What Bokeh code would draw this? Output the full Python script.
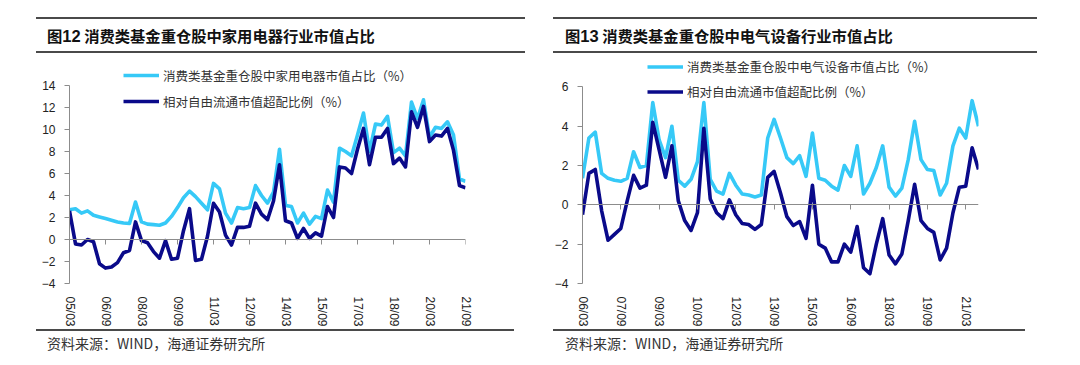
from bokeh.plotting import figure
from bokeh.models import (Range1d, FixedTicker, LinearAxis, Legend, LegendItem, Div)
from bokeh.layouts import row, column
from bokeh.embed import file_html
from bokeh.resources import INLINE

# ---------------- data ----------------
# Figure 12: quarterly, 2005Q1 .. 2021Q3
left_share = [2.7, 2.8, 2.4, 2.6, 2.2, 2.05, 1.9, 1.75, 1.6, 1.5,
              1.45, 3.4, 1.6, 1.4, 1.35, 1.3, 1.5, 2.1, 2.9, 3.8,
              4.4, 3.9, 3.3, 2.7, 5.1, 4.6, 2.4, 1.5, 2.9, 2.8,
              2.9, 4.9, 4.0, 3.3, 4.3, 8.2, 3.1, 3.0, 1.5, 2.4,
              1.4, 2.1, 1.9, 4.5, 3.4, 8.3, 8.0, 7.6, 9.5, 11.5,
              8.0, 10.5, 10.4, 11.2, 7.9, 8.3, 7.6, 12.5, 11.0, 12.7,
              9.3, 10.2, 10.1, 10.7, 9.5, 5.5, 5.3]
left_over = [2.6, -0.4, -0.5, 0.0, -0.2, -2.2, -2.6, -2.5, -2.1, -1.2,
             -1.0, 1.6, -0.1, -0.3, -1.1, -1.7, -0.1, -1.8, -1.7, 0.8,
             2.8, -1.9, -1.8, 0.3, 3.3, 2.5, 0.4, -0.5, 1.1, 1.1,
             1.2, 3.3, 2.3, 1.8, 3.5, 6.8, 1.7, 1.5, 0.1, 1.0,
             0.1, 0.6, 0.3, 3.0, 2.0, 6.6, 6.5, 6.0, 8.2, 10.1,
             6.8, 9.3, 9.3, 10.1, 6.9, 7.4, 6.6, 11.6, 10.2, 12.1,
             8.9, 9.5, 9.4, 10.1, 8.1, 4.9, 4.7]
left_tick_labels = ["05/03", "06/09", "08/03", "09/09", "11/03", "12/09",
                    "14/03", "15/09", "17/03", "18/09", "20/03", "21/09"]
left_yticks = [-4, -2, 0, 2, 4, 6, 8, 10, 12, 14]

# Figure 13: quarterly, 2006Q1 .. 2021Q3
right_share = [1.35, 3.4, 3.7, 1.6, 1.35, 1.25, 1.2, 1.35, 2.7, 1.9,
               2.0, 5.2, 3.3, 2.4, 4.0, 1.25, 0.95, 1.3, 2.2, 5.2,
               1.3, 0.7, 0.55, 1.6, 1.0, 0.55, 0.5, 0.4, 0.5, 3.4,
               4.35, 3.4, 2.4, 2.1, 2.5, 1.45, 3.65, 1.35, 1.25, 0.95,
               0.75, 2.0, 1.45, 3.0, 0.55, 1.1, 1.9, 3.0, 0.9, 0.45,
               0.85, 2.3, 4.25, 2.3, 1.8, 1.75, 0.5, 1.1, 3.0, 3.9,
               3.4, 5.3, 4.0]
right_over = [-0.5, 1.6, 1.8, -0.3, -1.8, -1.5, -1.2, 0.2, 1.5, 0.85,
              1.0, 4.2, 2.8, 1.4, 3.0, 0.2, -0.8, -1.3, -0.4, 3.9,
              0.3, -0.4, -0.7, 0.25, -0.5, -0.95, -1.0, -1.25, -1.0, 1.4,
              1.7, 0.6, -0.6, -1.05, -0.85, -1.7, 1.0, -2.0, -2.2, -2.9,
              -2.9, -2.0, -2.4, -1.1, -3.2, -3.5, -2.0, -0.7, -2.55, -3.0,
              -2.5, -0.8, 1.05, -0.8, -1.2, -1.4, -2.8, -2.2, -0.4, 0.9,
              0.95, 2.9, 1.8]
right_tick_labels = ["06/03", "07/09", "09/03", "10/09", "12/03", "13/09",
                     "15/03", "16/09", "18/03", "19/09", "21/03"]
right_yticks = [-4, -2, 0, 2, 4, 6]

title_left = ("图", "12", " 消费类基金重仓股中家用电器行业市值占比")
title_right = ("图", "13", " 消费类基金重仓股中电气设备行业市值占比")
legend_left = ["消费类基金重仓股中家用电器市值占比（%）", "相对自由流通市值超配比例（%）"]
legend_right = ["消费类基金重仓股中电气设备市值占比（%）", "相对自由流通市值超配比例（%）"]
source_text = "资料来源：WIND，海通证券研究所"

LIGHT = "#36C9F7"
DARK = "#0A0A8A"
AXIS = "#8C8C8C"
RULE = "#4A4A4A"
CJK = "Noto Sans CJK SC"
LAT = "Liberation Sans"
TICK_STEP = 6


def title_div(parts, ml, w, pl, total_w):
    html = (f'<div style="padding-top:17px;"><div style="margin-left:{ml}px;width:{w}px;'
            f'border-top:2px solid {RULE};border-bottom:2px solid {RULE};height:32px;'
            f'line-height:32px;padding-left:{pl}px;box-sizing:content-box;'
            f'font-family:\'{CJK}\';font-weight:bold;font-size:15.3px;color:#111;'
            f'white-space:nowrap;">{parts[0]}<span style="font-family:\'{LAT}\';'
            f'font-size:16.5px;">{parts[1]}</span>{parts[2]}</div></div>')
    return Div(text=html, width=total_w, height=53, margin=0)


def foot_div(ml, w, pl, total_w):
    html = (f'<div style="margin-left:{ml}px;width:{w}px;'
            f'border-top:2px solid {RULE};height:24px;line-height:24px;'
            f'padding-left:{pl}px;font-family:\'{CJK}\';font-size:14px;color:#333;'
            f'white-space:nowrap;">{source_text}</div>')
    return Div(text=html, width=total_w, height=28, margin=0)


def panel(share, over, tick_labels, yticks, legend_labels,
          borders, frame_h, px_per_unit, legend_loc, legend_row_h):
    n = len(share)
    xs = list(range(n))
    bl, br, bt, bb = borders
    y_top = yticks[0] + frame_h / px_per_unit
    p = figure(frame_width=396, frame_height=frame_h, output_backend="svg",
               toolbar_location=None,
               x_range=Range1d(0, n - 1), y_range=Range1d(yticks[0], y_top),
               min_border_left=bl, min_border_right=br, min_border_top=bt,
               min_border_bottom=bb, x_axis_type=None, y_axis_type=None)
    p.outline_line_color = None
    p.xgrid.visible = False
    p.ygrid.visible = False
    p.background_fill_color = "white"

    # y axis (spine limited to the tick range)
    yax = LinearAxis(ticker=FixedTicker(ticks=yticks), bounds=(yticks[0], yticks[-1]))
    yax.axis_line_color = AXIS
    yax.major_tick_line_color = AXIS
    yax.major_tick_in = 0
    yax.major_tick_out = 5
    yax.minor_tick_line_color = None
    yax.major_label_standoff = 9
    yax.major_label_text_font = LAT
    yax.major_label_text_font_size = "12px"
    yax.major_label_text_color = "#222222"
    p.add_layout(yax, "left")

    # x labels at the bottom
    tick_pos = [i * TICK_STEP for i in range(len(tick_labels))]
    xlab = LinearAxis(ticker=FixedTicker(ticks=tick_pos))
    xlab.major_label_overrides = {t: l for t, l in zip(tick_pos, tick_labels)}
    xlab.axis_line_color = None
    xlab.major_tick_line_color = None
    xlab.minor_tick_line_color = None
    xlab.major_label_orientation = "vertical"
    xlab.major_label_standoff = 7
    xlab.major_label_text_font = LAT
    xlab.major_label_text_font_size = "12px"
    xlab.major_label_text_color = "#222222"
    p.add_layout(xlab, "below")

    # zero line with downward ticks (label-less axis fixed at y=0)
    zax = LinearAxis(ticker=FixedTicker(ticks=tick_pos), fixed_location=0)
    zax.axis_line_color = AXIS
    zax.major_tick_line_color = AXIS
    zax.major_tick_in = 5
    zax.major_tick_out = 0
    zax.minor_tick_line_color = None
    zax.major_label_text_color = None
    zax.major_label_text_font_size = "1px"
    zax.major_label_standoff = 0
    p.add_layout(zax, "above")

    r1 = p.line(xs, share, line_color=LIGHT, line_width=3.6, line_join="round")
    r2 = p.line(xs, over, line_color=DARK, line_width=3.6, line_join="round")

    leg = Legend(items=[LegendItem(label=legend_labels[0], renderers=[r1]),
                        LegendItem(label=legend_labels[1], renderers=[r2])],
                 location=legend_loc, orientation="vertical")
    leg.background_fill_alpha = 0
    leg.border_line_color = None
    leg.padding = 0
    leg.margin = 0
    leg.spacing = 0
    leg.glyph_width = 36
    leg.glyph_height = legend_row_h
    leg.label_height = legend_row_h
    leg.label_standoff = 4
    leg.label_text_font = CJK
    leg.label_text_font_size = "12.5px"
    leg.label_text_color = "#333333"
    p.add_layout(leg, "center")
    return p


# left: frame x 69..465, y 64..283 (11 px per unit)
pL = panel(left_share, left_over, left_tick_labels, left_yticks, legend_left,
           (69, 75, 11, 44), 219, 11.0, (54, 169), 26)
# right: frame x 582..978, y 55..283 (19.66 px per unit)
pR = panel(right_share, right_over, right_tick_labels, right_yticks, legend_right,
           (42, 94, 2, 44), 228, 19.66, (65, 179), 25)

colL = column(title_div(title_left, 36, 478, 11, 540), pL, foot_div(36, 478, 11, 540),
              spacing=0)
colR = column(title_div(title_right, 13, 472, 12, 532), pR, foot_div(13, 472, 12, 532),
              spacing=0)
layout = row(colL, colR, spacing=0)
open("out.html", "w").write(file_html(layout, INLINE))
